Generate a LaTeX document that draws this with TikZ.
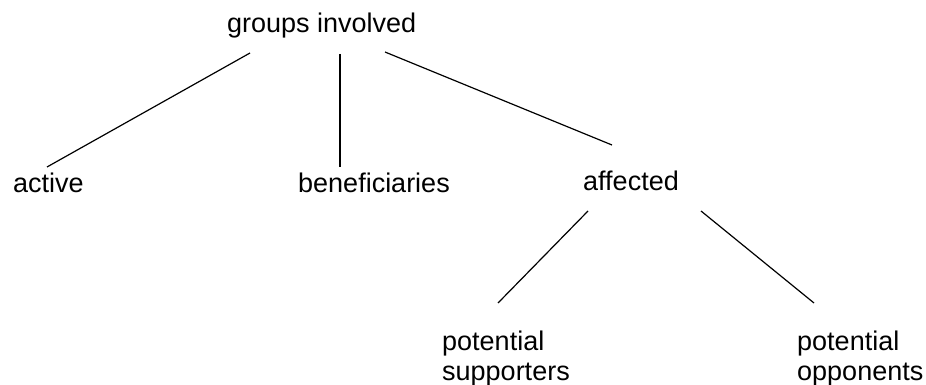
\documentclass[tikz,border=0pt]{standalone}
\usepackage{fontspec}
\setmainfont{Liberation Sans}
\usetikzlibrary{calc}

\begin{document}
\begin{tikzpicture}[x=1pt,y=-1pt,
  grouplabel/.style={inner sep=0pt,font=\fontsize{27}{30}\selectfont},
  branch/.style={line width=1.2pt}]
\useasboundingbox (0,0) rectangle (926,385);
\node[grouplabel,anchor=base west] (groups) at (227,33) {groups involved};
\node[grouplabel,anchor=base west] (active) at (13,192) {active};
\node[grouplabel,anchor=base west] (beneficiaries) at (298,192) {beneficiaries};
\node[grouplabel,anchor=base west] (affected) at (583,190) {affected};
\node[grouplabel,anchor=north west,align=left] (supporters) at (442,331) {potential\\supporters};
\node[grouplabel,anchor=north west,align=left] (opponents) at (797,331) {potential\\opponents};
\draw[branch] ($(groups.base west)+(23,20)$) -- ($(active.base west)+(34,-25)$);
\draw[branch] ($(groups.base west)+(113,21)$) -- ($(beneficiaries.base west)+(42,-25)$);
\draw[branch] ($(groups.base west)+(158,19)$) -- ($(affected.base west)+(29,-45)$);
\draw[branch] ($(affected.base west)+(5,21)$) -- ($(supporters.north west)+(56,-28)$);
\draw[branch] ($(affected.base west)+(118,21)$) -- ($(opponents.north west)+(17,-28)$);
\end{tikzpicture}
\end{document}
